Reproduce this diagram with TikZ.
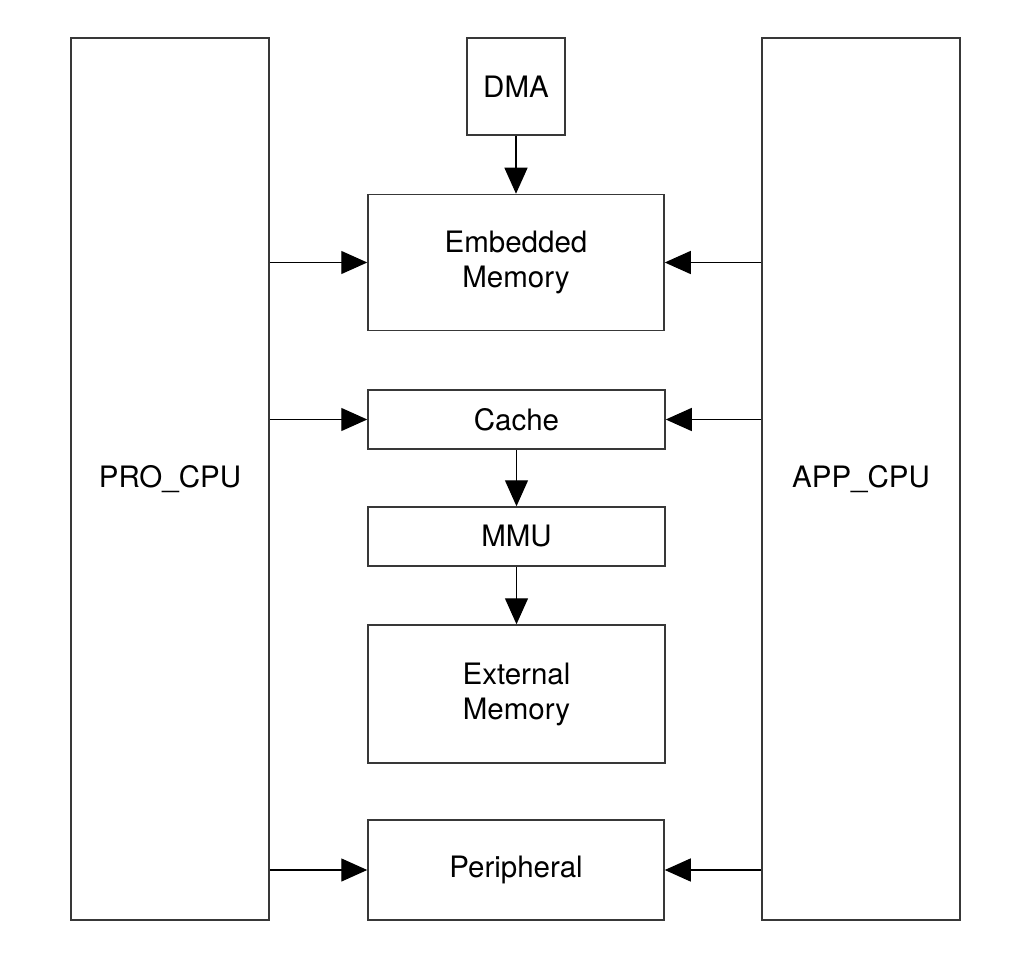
\documentclass[tikz,border=0pt]{standalone}
\usepackage{fontspec}
\setmainfont{TeX Gyre Heros}
\usetikzlibrary{arrows.meta}
\definecolor{ln}{HTML}{383838}
\begin{document}
\begin{tikzpicture}[x=1pt,y=-1pt,
  blk/.style={draw=ln,line width=1.5pt,rectangle,inner sep=0pt,align=center,
    font=\fontsize{29.5}{35}\selectfont,text=black},
  conn/.style={draw=black,line width=1.3pt,-{Triangle[length=26pt,width=23pt]}}]
\useasboundingbox (0,0) rectangle (1034,976);
\node[blk,minimum width=198pt,minimum height=882pt] (pro) at (170,479) {PRO\_CPU};
\node[blk,minimum width=198pt,minimum height=882pt] (app) at (861,479) {APP\_CPU};
\node[blk,minimum width=98pt,minimum height=97pt] (dma) at (516,86.5) {DMA};
\node[blk,minimum width=296pt,minimum height=136pt] (emb) at (516,262.5) {Embedded\\Memory};
\node[blk,minimum width=297pt,minimum height=59pt] (cache) at (516.5,419.5) {Cache};
\node[blk,minimum width=297pt,minimum height=59pt] (mmu) at (516.5,536.5) {MMU};
\node[blk,minimum width=297pt,minimum height=138pt] (ext) at (516.5,694) {External\\Memory};
\node[blk,minimum width=296pt,minimum height=100pt] (peri) at (516,870) {Peripheral};
\draw[conn] (dma.south) -- (emb.north);
\draw[conn] (cache.south) -- (mmu.north);
\draw[conn] (mmu.south) -- (ext.north);
\draw[conn] (pro.east |- emb.west) -- (emb.west);
\draw[conn] (app.west |- emb.east) -- (emb.east);
\draw[conn] (pro.east |- cache.west) -- (cache.west);
\draw[conn] (app.west |- cache.east) -- (cache.east);
\draw[conn] (pro.east |- peri.west) -- (peri.west);
\draw[conn] (app.west |- peri.east) -- (peri.east);
\end{tikzpicture}
\end{document}
